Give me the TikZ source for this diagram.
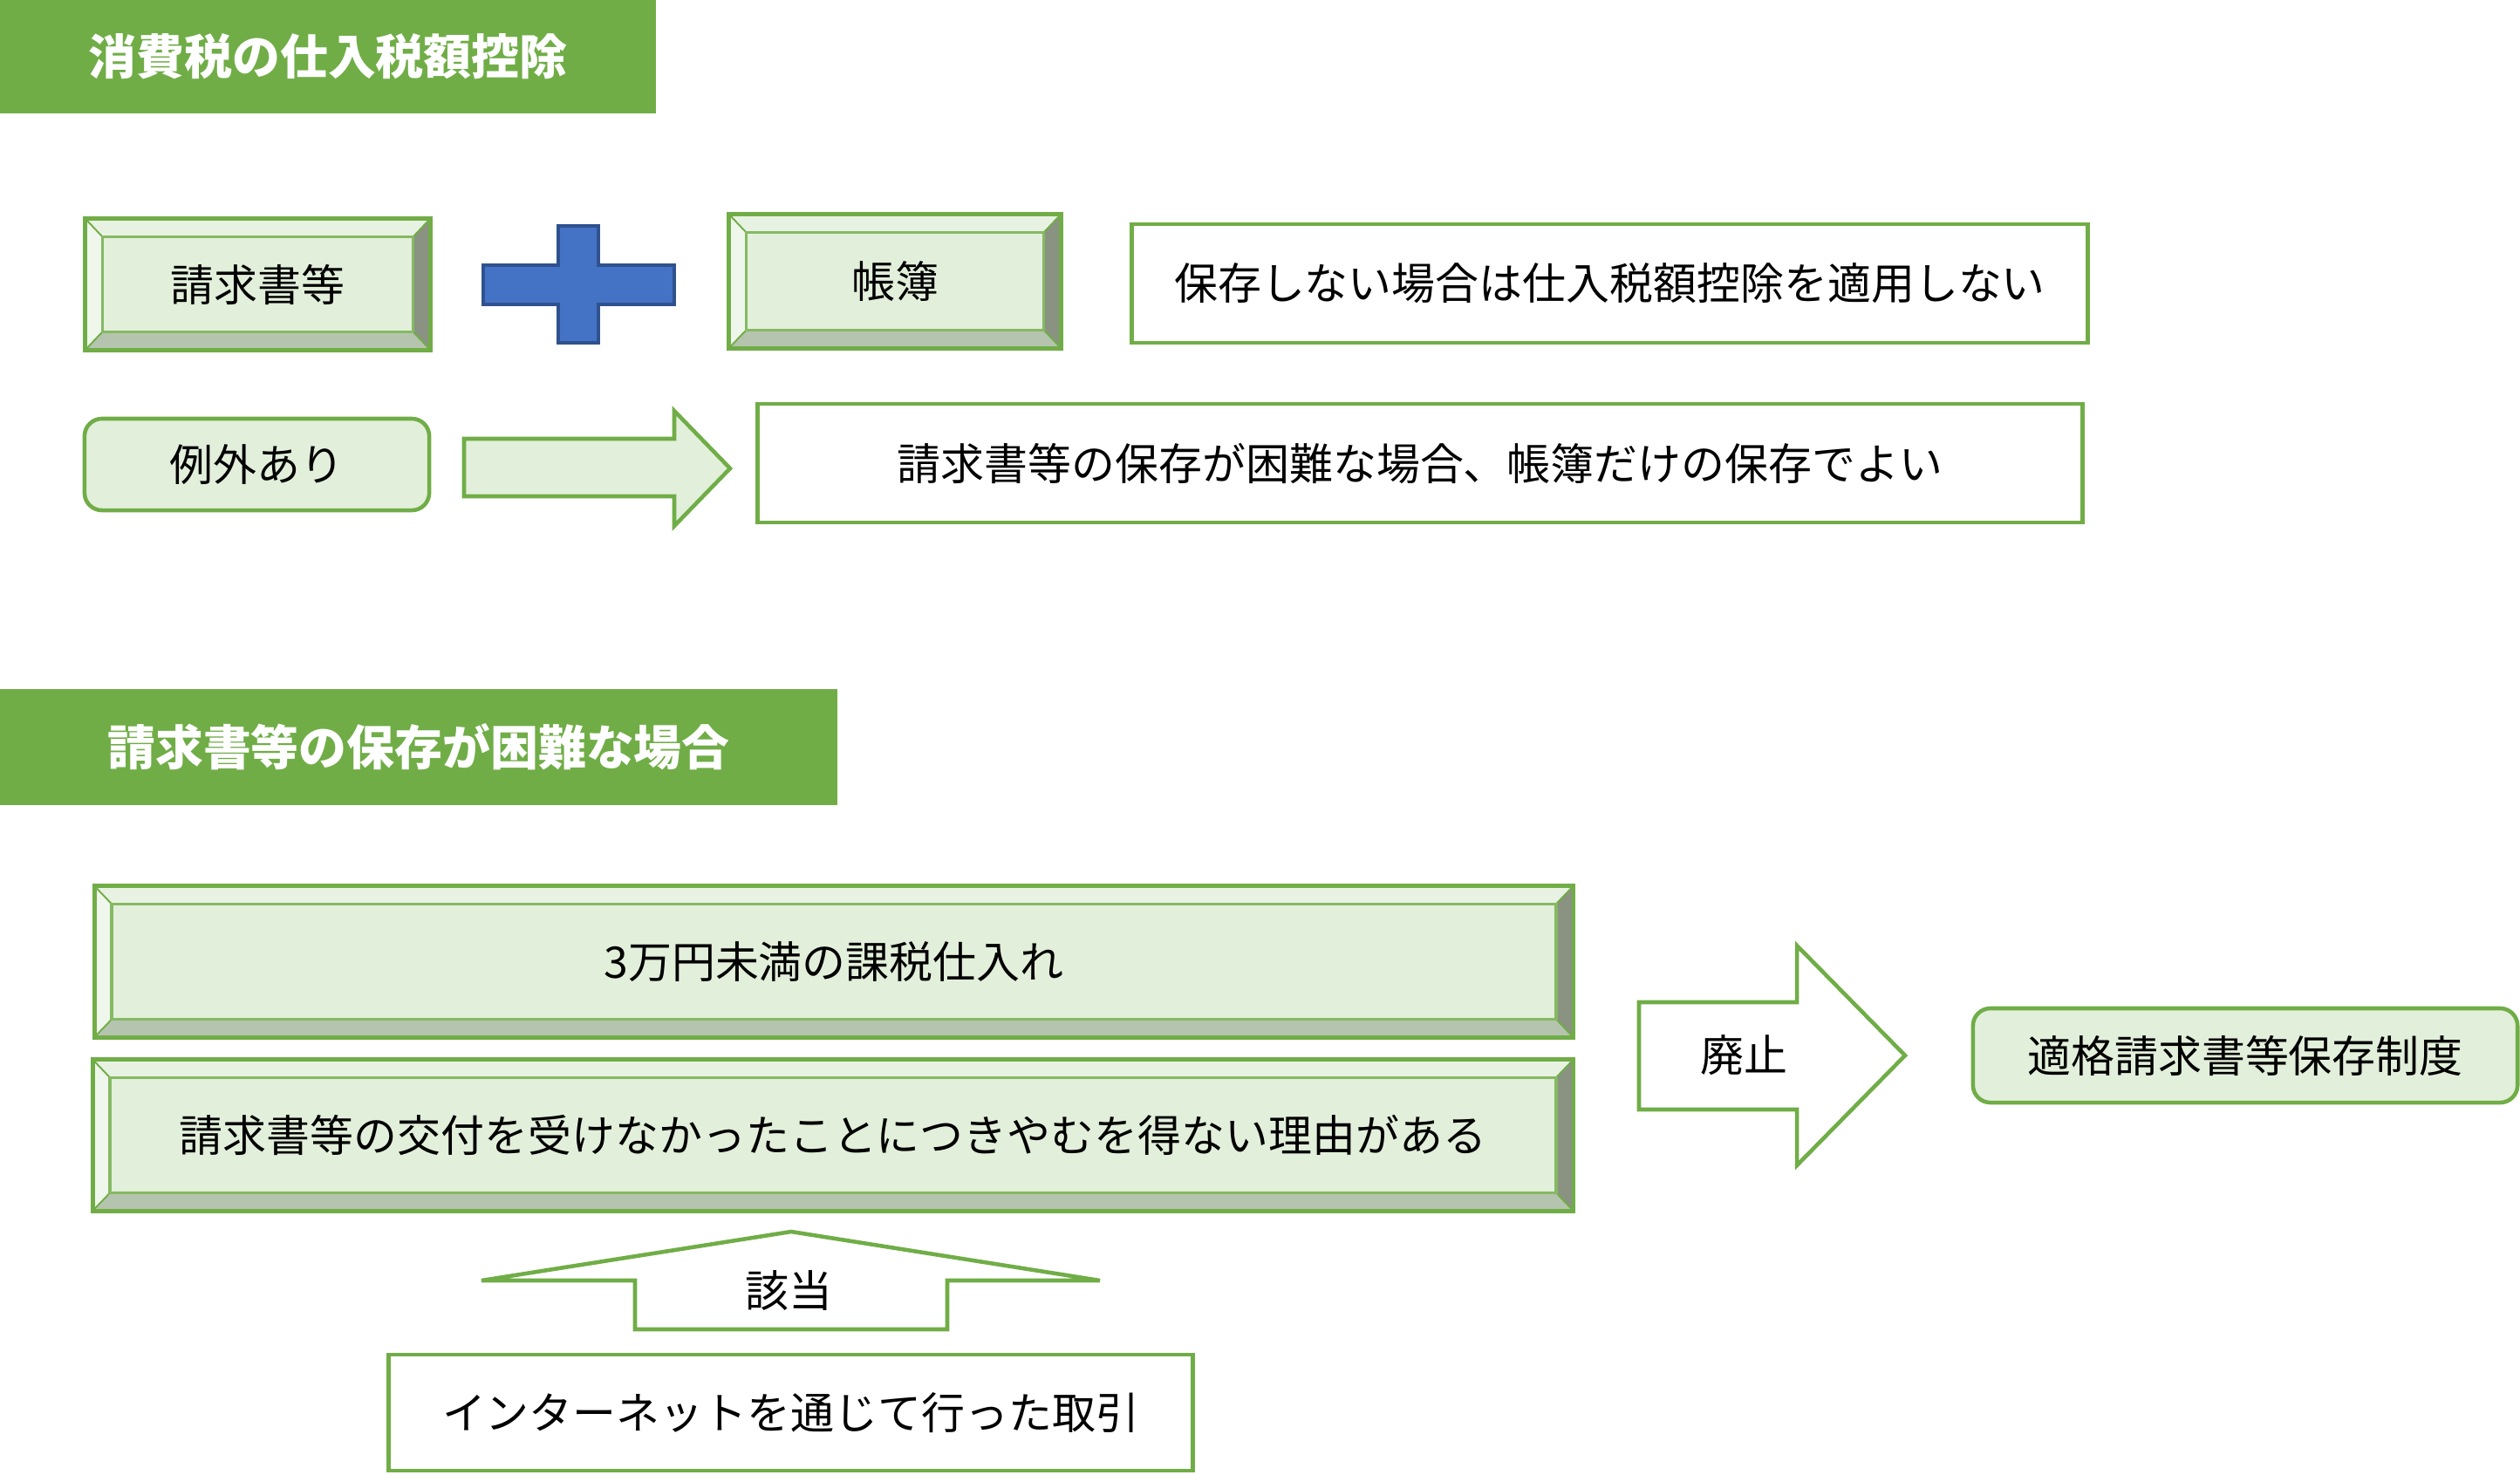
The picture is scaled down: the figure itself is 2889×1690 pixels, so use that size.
\documentclass[tikz,border=0pt]{standalone}
\usepackage{fontspec}
\setmainfont{Noto Sans CJK JP}
\usepackage{tikz}
\usetikzlibrary{calc}
\definecolor{midori}{HTML}{70AD47}
\definecolor{usumidori}{HTML}{E2EFDA}
\definecolor{hikari}{HTML}{E8F2E2}
\definecolor{hikarisoku}{HTML}{EFF6EB}
\definecolor{kage}{HTML}{8A9381}
\definecolor{kageshita}{HTML}{B5C4AE}
\definecolor{ao}{HTML}{4472C4}
\definecolor{koao}{HTML}{2F528F}
\tikzset{
  midashi/.style={rectangle, fill=midori, text=white, inner sep=0pt,
    font=\bfseries\fontsize{15.6}{18}\selectfont},
  hako/.style={rectangle, draw=midori, line width=1.3pt, fill=white,
    inner sep=0pt, font=\fontsize{14.2}{17}\selectfont},
  kaku/.style={hako, fill=usumidori},
  kadomaru/.style={hako, fill=usumidori, rounded corners=0.2cm},
  yajirushi/.style={draw=midori, line width=1.3pt},
  moji/.style={inner sep=0pt, font=\fontsize{14.2}{17}\selectfont}
}
% bevel around a kaku node
\newcommand{\mentori}[1]{
  \filldraw[hikari, draw=midori, line width=0.5pt] (#1.north west) -- (#1.north east)
    -- ([shift={(-0.2cm,-0.21cm)}]#1.north east) -- ([shift={(0.2cm,-0.21cm)}]#1.north west) -- cycle;
  \filldraw[hikarisoku, draw=midori, line width=0.5pt] (#1.north west) -- ([shift={(0.2cm,-0.21cm)}]#1.north west)
    -- ([shift={(0.2cm,0.21cm)}]#1.south west) -- (#1.south west) -- cycle;
  \filldraw[kage, draw=midori, line width=0.5pt] (#1.north east) -- ([shift={(-0.2cm,-0.21cm)}]#1.north east)
    -- ([shift={(-0.2cm,0.21cm)}]#1.south east) -- (#1.south east) -- cycle;
  \filldraw[kageshita, draw=midori, line width=0.5pt] (#1.south west) -- ([shift={(0.2cm,0.21cm)}]#1.south west)
    -- ([shift={(-0.2cm,0.21cm)}]#1.south east) -- (#1.south east) -- cycle;
  \draw[midori!85, line width=1pt] ([shift={(0.2cm,-0.21cm)}]#1.north west) rectangle ([shift={(-0.2cm,0.21cm)}]#1.south east);
  \draw[midori, line width=1.3pt] (#1.north west) rectangle (#1.south east);
}
\begin{document}
\begin{tikzpicture}[x=0.01cm, y=-0.01cm]
  \useasboundingbox (0,0) rectangle (2889,1690);

  % --- 仕入税額控除 ---
  \node[midashi, minimum width=7.52cm, minimum height=1.30cm] (midashi1) at (376,65) {消費税の仕入税額控除};

  \node[kaku, minimum width=3.91cm, minimum height=1.46cm] (seikyu) at (295.5,326) {請求書等};
  \mentori{seikyu}
  \filldraw[ao, draw=koao, line width=1.3pt] (640,259) -- (686,259) -- (686,304) -- (773,304) -- (773,349)
    -- (686,349) -- (686,393) -- (640,393) -- (640,349) -- (554,349) -- (554,304) -- (640,304) -- cycle;
  \node[kaku, minimum width=3.76cm, minimum height=1.49cm] (chobo) at (1026,322.5) {帳簿};
  \mentori{chobo}
  \node[hako, minimum width=10.95cm, minimum height=1.36cm] (hozon) at (1845.5,325)
    {保存しない場合は仕入税額控除を適用しない};

  \node[kadomaru, minimum width=3.95cm, minimum height=1.05cm] (reigai) at (294.5,532.5) {例外あり};
  \filldraw[yajirushi, fill=usumidori] (532,503) -- (773,503) -- (773,471) -- (837,537)
    -- (773,603) -- (773,569) -- (532,569) -- cycle;
  \node[hako, minimum width=15.18cm, minimum height=1.36cm] (konnan) at (1628,531)
    {請求書等の保存が困難な場合、帳簿だけの保存でよい};

  % --- 保存が困難な場合 ---
  \node[midashi, minimum width=9.60cm, minimum height=1.33cm] (midashi2) at (480,856.5) {請求書等の保存が困難な場合};

  \node[kaku, minimum width=16.90cm, minimum height=1.69cm] (sanman) at (956,1102.5) {3万円未満の課税仕入れ};
  \mentori{sanman}
  \node[kaku, minimum width=16.92cm, minimum height=1.69cm] (kofu) at (955,1301.5)
    {請求書等の交付を受けなかったことにつきやむを得ない理由がある};
  \mentori{kofu}

  \filldraw[yajirushi, fill=white] (1879,1149) -- (2060,1149) -- (2060,1084) -- (2184,1210)
    -- (2060,1336) -- (2060,1272) -- (1879,1272) -- cycle;
  \node[moji] (haishi) at (1999,1210) {廃止};
  \node[kadomaru, minimum width=6.24cm, minimum height=1.08cm] (tekikaku) at (2574,1210) {適格請求書等保存制度};

  \filldraw[yajirushi, fill=white] (907,1412) -- (1261,1468) -- (1086,1468) -- (1086,1524)
    -- (728,1524) -- (728,1468) -- (552,1468) -- cycle;
  \node[moji] (gaito) at (904,1480) {該当};
  \node[hako, minimum width=9.21cm, minimum height=1.33cm] (net) at (906.5,1619.5)
    {インターネットを通じて行った取引};

\end{tikzpicture}
\end{document}
